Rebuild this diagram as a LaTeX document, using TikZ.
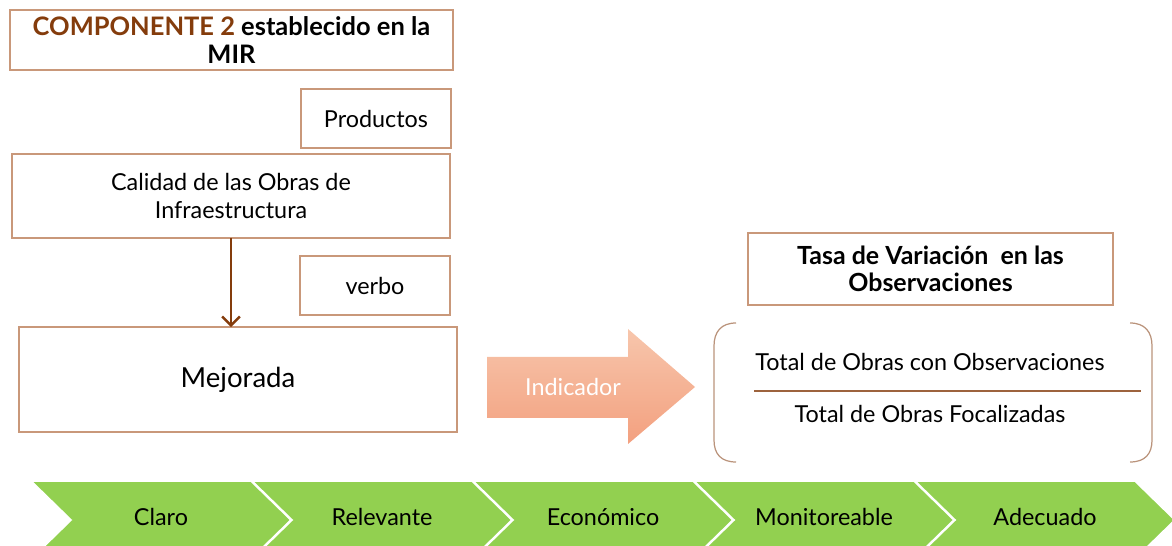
\documentclass[tikz,border=0pt]{standalone}
\usepackage{fontspec}
\setmainfont{Lato}
\usetikzlibrary{arrows.meta}
\definecolor{cafe}{HTML}{843C0C}
\definecolor{borde}{HTML}{C9987A}
\definecolor{verde}{HTML}{92D050}
\definecolor{salmonA}{HTML}{F7C6AC}
\definecolor{salmonB}{HTML}{F3A07F}
\begin{document}
\begin{tikzpicture}[x=0.02cm,y=-0.02cm,
  caja/.style={draw=borde, line width=0.8pt, fill=white, inner sep=0pt, outer sep=0pt, align=center},
  txt/.style={font=\fontsize{13.3}{16}\selectfont, align=center},
  chevron/.style={fill=verde, draw=white, line width=1pt}]
\useasboundingbox (0,0) rectangle (1172,546);

\node[caja, minimum width=8.86cm, minimum height=1.2cm, font=\bfseries\fontsize{14.5}{16}\selectfont] (titulo) at (231.5,40)
  {\textcolor{cafe}{COMPONENTE 2} establecido en la\\MIR};
\node[caja, txt, minimum width=3cm, minimum height=1.18cm] (productos) at (376,118.5) {Productos};
\node[caja, txt, minimum width=8.76cm, minimum height=1.68cm] (calidad) at (231,196) {Calidad de las Obras de\\Infraestructura};
\node[caja, txt, minimum width=3cm, minimum height=1.18cm] (verbo) at (375,285.5) {verbo};
\node[caja, minimum width=8.76cm, minimum height=2.1cm, font=\fontsize{15.7}{18}\selectfont] (mejorada) at (238,379.5) {Mejorada};
\draw[cafe, line width=1.4pt, -{Straight Barb[length=5pt,width=10pt]}] (calidad.south) -- (calidad.south |- mejorada.north);

% flecha indicador
\shade[top color=salmonA, bottom color=salmonB]
  (487,357) -- (628,357) -- (628,329) -- (695,387) -- (628,444) -- (628,418) -- (487,418) -- cycle;
\node[txt, text=white] (indicador) at (573,387) {Indicador};

% formula
\node[caja, minimum width=7.3cm, minimum height=1.44cm, font=\bfseries\fontsize{14.2}{15}\selectfont] (tasa) at (930.5,269)
  {Tasa de Variación\ \ en las\\Observaciones};
\draw[borde!80!gray, line width=0.7pt]
  (736,323) .. controls (721,323) and (714,332) .. (714,346) -- (714,440)
  .. controls (714,454) and (721,462) .. (736,462);
\draw[borde!80!gray, line width=0.7pt]
  (1130,323) .. controls (1145,323) and (1152,332) .. (1152,346) -- (1152,440)
  .. controls (1152,454) and (1145,462) .. (1130,462);
\node[txt] (num) at (930,362) {Total de Obras con Observaciones};
\node[txt] (den) at (930,414) {Total de Obras Focalizadas};
\draw[cafe!80, line width=0.8pt] (754,391) -- (1141,391);

% criterios
\foreach \i in {0,...,4}
  \draw[chevron] ({31+221*\i},481) -- ++(220,0) -- ++(40,39) -- ++(-40,39) -- ++(-220,0) -- ++(40,-39) -- cycle;
\foreach \i/\t in {0/Claro,1/Relevante,2/Económico,3/Monitoreable,4/Adecuado}
  \node[txt] (crit\i) at ({161+221*\i},517) {\t};

\end{tikzpicture}
\end{document}
